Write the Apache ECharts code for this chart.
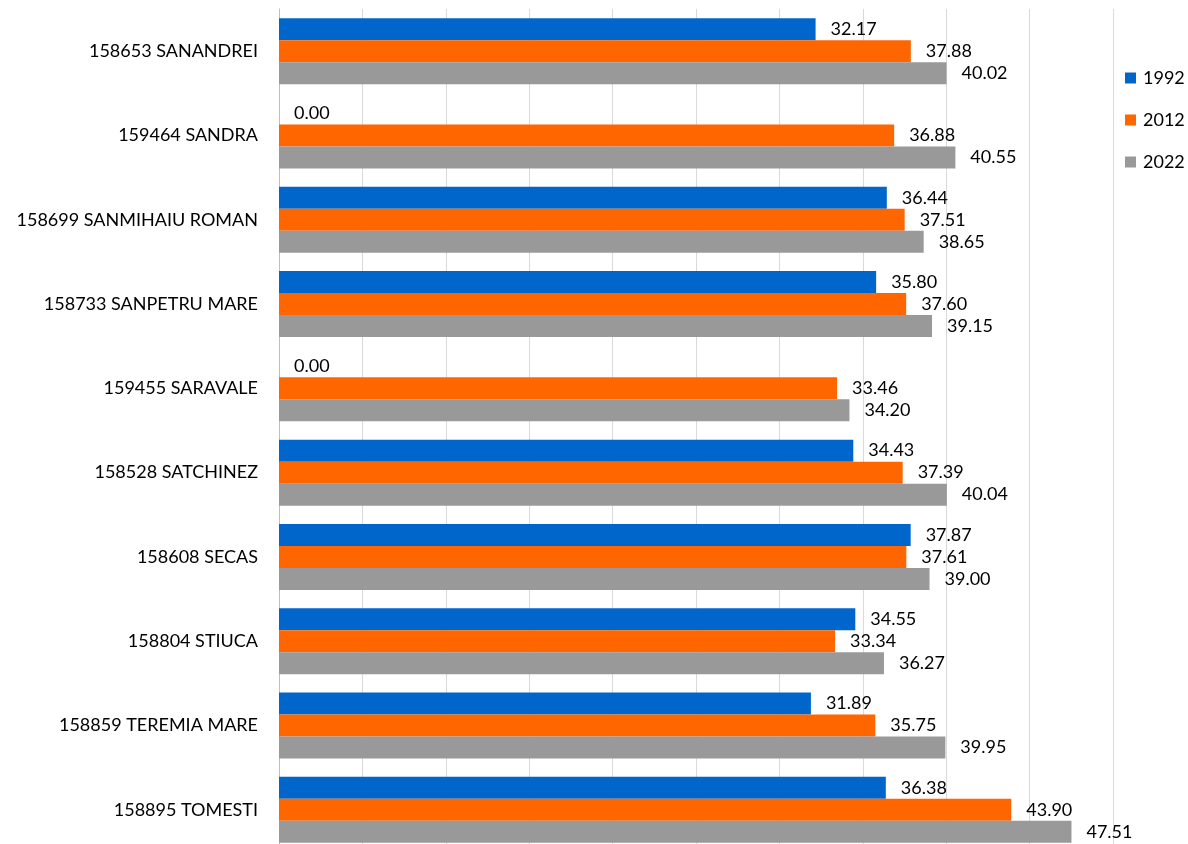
<!DOCTYPE html>
<html>
<head>
<meta charset="utf-8">
<script src="https://cdn.jsdelivr.net/npm/echarts@6/dist/echarts.min.js"></script>
<style>
  html, body { margin: 0; padding: 0; background: #ffffff; }
  #chart { width: 1188px; height: 844px; }
</style>
</head>
<body>
<div id="chart"></div>
<script>
// Localities, top to bottom
const categories = [
  '158653 SANANDREI',
  '159464 SANDRA',
  '158699 SANMIHAIU ROMAN',
  '158733 SANPETRU MARE',
  '159455 SARAVALE',
  '158528 SATCHINEZ',
  '158608 SECAS',
  '158804 STIUCA',
  '158859 TEREMIA MARE',
  '158895 TOMESTI'
];

const seriesNames = ['1992', '2012', '2022'];

const values1992 = [32.17, 0.00, 36.44, 35.80, 0.00, 34.43, 37.87, 34.55, 31.89, 36.38];
const values2012 = [37.88, 36.88, 37.51, 37.60, 33.46, 37.39, 37.61, 33.34, 35.75, 43.90];
const values2022 = [40.02, 40.55, 38.65, 39.15, 34.20, 40.04, 39.00, 36.27, 39.95, 47.51];

const colors = ['#0066CC', '#FF6600', '#999999'];
const fontFamily = 'Lato, "Open Sans", sans-serif';

function makeSeries(name, data, color) {
  return {
    name: name,
    type: 'bar',
    data: data,
    barWidth: 22,
    barGap: '0%',
    itemStyle: { color: color },
    label: {
      show: true,
      position: 'right',
      distance: 15,
      formatter: p => p.value.toFixed(2),
      color: '#000000',
      fontSize: 18,
      fontFamily: fontFamily
    }
  };
}

const chart = echarts.init(document.getElementById('chart'), null, { renderer: 'canvas' });

chart.setOption({
  animation: false,
  backgroundColor: '#ffffff',
  color: colors,
  // the plot runs a little past the bottom edge, so the last band is cut off
  grid: { left: 279, top: 9, width: 834, height: 843, containLabel: false, outerBoundsMode: 'none' },
  legend: {
    orient: 'vertical',
    left: 1125,
    top: 69,
    padding: 0,
    itemWidth: 11,
    itemHeight: 11,
    itemGap: 24,
    icon: 'rect',
    data: seriesNames,
    textStyle: { color: '#000000', fontSize: 18, fontFamily: fontFamily, padding: [0, 0, 0, 2] }
  },
  xAxis: {
    type: 'value',
    min: 0,
    max: 50,
    interval: 5,
    axisLabel: { show: false },
    axisLine: { show: false },
    axisTick: { show: false },
    splitLine: { show: true, lineStyle: { color: '#d9d9d9', width: 1 } }
  },
  yAxis: {
    type: 'category',
    data: categories,
    inverse: true,
    axisLine: { show: true, lineStyle: { color: '#bfbfbf', width: 1 } },
    axisTick: { show: false },
    axisLabel: { margin: 21, color: '#000000', fontSize: 18, fontFamily: fontFamily }
  },
  series: [
    makeSeries(seriesNames[0], values1992, colors[0]),
    makeSeries(seriesNames[1], values2012, colors[1]),
    makeSeries(seriesNames[2], values2022, colors[2])
  ]
});
</script>
</body>
</html>
